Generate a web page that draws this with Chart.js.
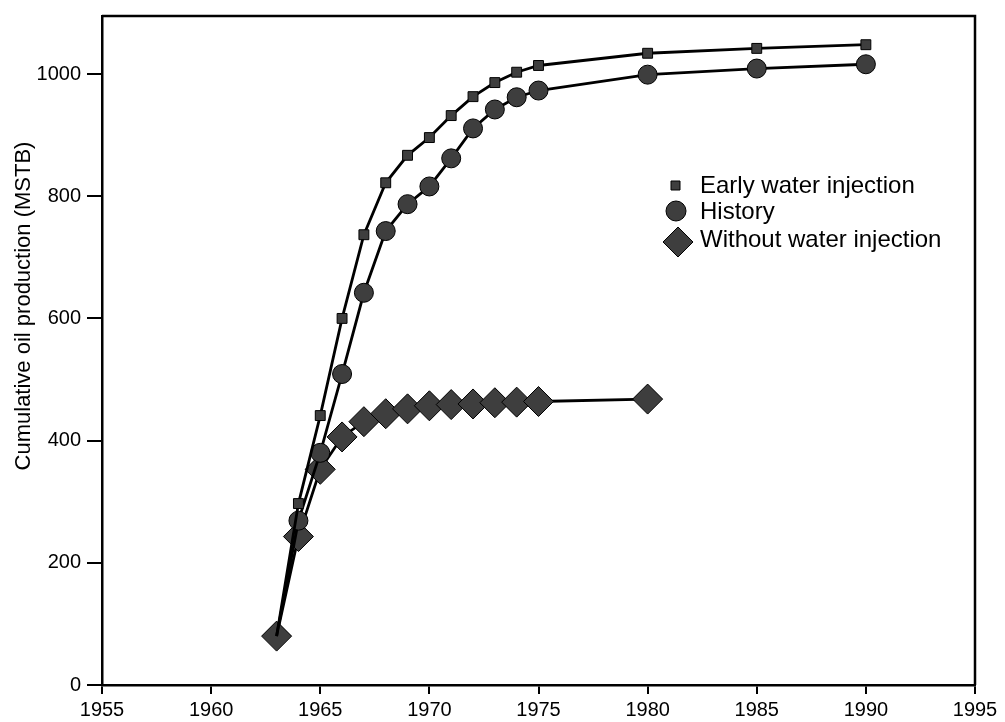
<!DOCTYPE html>
<html>
<head>
<meta charset="utf-8">
<title>Cumulative oil production</title>
<script src="https://cdn.jsdelivr.net/npm/chart.js@4/dist/chart.umd.min.js"></script>
<style>
  body { margin: 0; background: #fff; }
  #wrap { width: 1005px; height: 722px; }
</style>
</head>
<body>
<div id="wrap"><canvas id="myChart" width="1005" height="722"></canvas></div>
<script>
/// datos ///

const years = [1963, 1964, 1965, 1966, 1967, 1968, 1969, 1970, 1971, 1972, 1973, 1974, 1975, 1980, 1985, 1990];
const earlyInjection = [80, 297, 441, 600, 737, 822, 867, 896, 932, 963, 986, 1003, 1014, 1034, 1042, 1048];
const history = [80, 269, 380, 509, 642, 743, 787, 816, 862, 911, 942, 962, 973, 999, 1009, 1016];

const yearsWithout = [1963, 1964, 1965, 1966, 1967, 1968, 1969, 1970, 1971, 1972, 1973, 1974, 1975, 1980];
const withoutInjection = [80, 243, 353, 406, 431, 444, 452, 457, 459, 460, 462, 463, 464, 468];

const xTicks = [1955, 1960, 1965, 1970, 1975, 1980, 1985, 1990, 1995];
const yTicks = [0, 200, 400, 600, 800, 1000];

const legendLabels = ["Early water injection", "History", "Without water injection"];
const yTitle = "Cumulative oil production (MSTB)";

//////////////

const fillGris = "#3e3e3e";
const fuente = "'Liberation Sans', Arial, Helvetica, sans-serif";

function puntos(xs, ys) {
    return xs.map((x, i) => ({ x: x, y: ys[i] }));
}

// marco de arriba y derecha, leyenda y titulo del eje y
const extras = {
    id: "extras",
    afterDraw(chart) {
        const ctx = chart.ctx;
        const a = chart.chartArea;
        ctx.save();
        ctx.strokeStyle = "#000";
        ctx.lineWidth = 2.5;
        ctx.beginPath();
        ctx.moveTo(a.left, a.top);
        ctx.lineTo(a.right, a.top);
        ctx.lineTo(a.right, a.bottom);
        ctx.stroke();

        // leyenda
        ctx.fillStyle = fillGris;
        ctx.strokeStyle = "#000";
        ctx.lineWidth = 1;
        ctx.beginPath();
        ctx.rect(671, 181, 9, 9);
        ctx.fill(); ctx.stroke();
        ctx.beginPath();
        ctx.arc(676, 211, 10, 0, Math.PI * 2);
        ctx.fill(); ctx.stroke();
        ctx.beginPath();
        ctx.moveTo(663, 242);
        ctx.lineTo(678, 227);
        ctx.lineTo(693, 242);
        ctx.lineTo(678, 257);
        ctx.closePath();
        ctx.fill(); ctx.stroke();

        ctx.fillStyle = "#000";
        ctx.font = "24px " + fuente;
        ctx.textBaseline = "middle";
        ctx.textAlign = "left";
        ctx.fillText(legendLabels[0], 700, 186);
        ctx.fillText(legendLabels[1], 700, 212);
        ctx.fillText(legendLabels[2], 700, 240);

        // titulo eje y
        ctx.translate(24, 306);
        ctx.rotate(-Math.PI / 2);
        ctx.textAlign = "center";
        ctx.font = "22px " + fuente;
        ctx.fillText(yTitle, 0, 0);
        ctx.restore();
    }
};

const config = {
    type: "line",
    data: {
        datasets: [
            {
                label: legendLabels[0],
                data: puntos(years, earlyInjection),
                borderColor: "#000",
                borderWidth: 2.8,
                pointStyle: "rect",
                pointRadius: years.map((y, i) => i === 0 ? 0 : 7),
                pointBackgroundColor: fillGris,
                pointBorderColor: "#000",
                pointBorderWidth: 1,
                tension: 0
            },
            {
                label: legendLabels[1],
                data: puntos(years, history),
                borderColor: "#000",
                borderWidth: 2.8,
                pointStyle: "circle",
                pointRadius: years.map((y, i) => i === 0 ? 0 : 9.5),
                pointBackgroundColor: fillGris,
                pointBorderColor: "#000",
                pointBorderWidth: 1,
                tension: 0
            },
            {
                label: legendLabels[2],
                data: puntos(yearsWithout, withoutInjection),
                borderColor: "#000",
                borderWidth: 2.8,
                pointStyle: "rectRot",
                pointRadius: 15,
                pointBackgroundColor: fillGris,
                pointBorderColor: "#000",
                pointBorderWidth: 1,
                tension: 0
            }
        ]
    },
    options: {
        responsive: false,
        animation: false,
        layout: { padding: { left: 0, right: 30, top: 12, bottom: 0 } },
        plugins: {
            legend: { display: false },
            tooltip: { enabled: false }
        },
        scales: {
            x: {
                type: "linear",
                min: xTicks[0],
                max: xTicks[xTicks.length - 1],
                afterBuildTicks: (scale) => { scale.ticks = xTicks.map(v => ({ value: v })); },
                afterFit: (scale) => { scale.height = 37; },
                ticks: {
                    color: "#000",
                    font: { family: fuente, size: 20 },
                    padding: 4,
                    maxRotation: 0,
                    callback: (v) => String(v)
                },
                grid: { drawOnChartArea: false, drawTicks: true, tickLength: 9, color: "#000", lineWidth: 2 },
                border: { display: true, color: "#000", width: 2.5 }
            },
            y: {
                min: 0,
                max: 1095,
                afterBuildTicks: (scale) => { scale.ticks = yTicks.map(v => ({ value: v })); },
                afterFit: (scale) => {
                    scale.width = 102;
                    scale.paddingTop = 0;
                    scale.paddingBottom = 0;
                },
                ticks: {
                    color: "#000",
                    font: { family: fuente, size: 20, lineHeight: 0.6 },
                    padding: 6,
                    callback: (v) => String(v)
                },
                grid: { drawOnChartArea: false, drawTicks: true, tickLength: 15, color: "#000", lineWidth: 2 },
                border: { display: true, color: "#000", width: 2.5 }
            }
        }
    },
    plugins: [extras]
};

const chartDOM = document.getElementById("myChart");
new Chart(chartDOM, config);
</script>
</body>
</html>
